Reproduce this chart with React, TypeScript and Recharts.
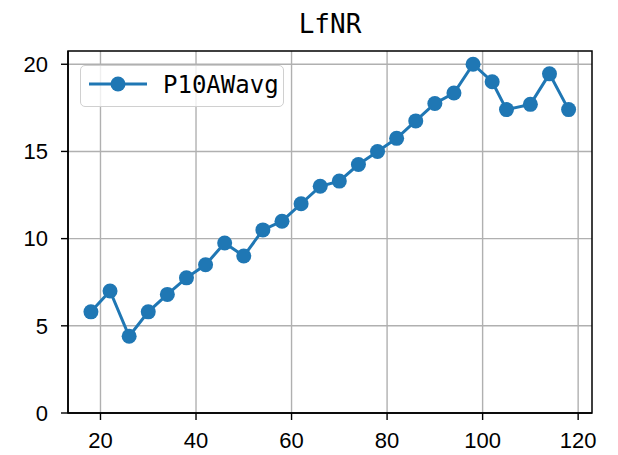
import React from "react";
import {
  LineChart,
  Line,
  XAxis,
  YAxis,
  CartesianGrid,
  ReferenceArea,
} from "recharts";

const xValues = [18, 22, 26, 30, 34, 38, 42, 46, 50, 54, 58, 62, 66, 70, 74, 78, 82, 86, 90, 94, 98, 102, 105, 110, 114, 118];
const p10AWavg = [5.8, 7.0, 4.4, 5.8, 6.8, 7.75, 8.5, 9.75, 9.0, 10.5, 11.0, 12.0, 13.0, 13.3, 14.25, 15.0, 15.75, 16.75, 17.75, 18.35, 20.0, 19.0, 17.4, 17.7, 19.45, 17.4];
const xTicks = [20, 40, 60, 80, 100, 120];
const yTicks = [0, 5, 10, 15, 20];

const X_DOMAIN: [number, number] = [13.2, 122.9];
const Y_DOMAIN: [number, number] = [0, 20.76];
const BLUE = "#1f77b4";
const MONO = "'DejaVu Sans Mono', monospace";
const SANS = "'Liberation Sans', Arial, sans-serif";

// legend drawn as an overlay so it does not take space from the plot
const LegendBox = () => (
  <div
    style={{
      position: "absolute",
      left: 80,
      top: 65,
      width: 204,
      height: 42,
      border: "1.5px solid #d0d0d0",
      borderRadius: 5,
      background: "rgba(255,255,255,0.8)",
      boxSizing: "border-box",
      fontFamily: MONO,
      fontSize: 24,
    }}
  >
    <svg width={80} height={30} style={{ position: "absolute", left: 8, top: 4 }}>
      <line x1={0} y1={14} x2={58} y2={14} stroke={BLUE} strokeWidth={3} />
      <circle cx={29} cy={14} r={7.5} fill={BLUE} />
    </svg>
    <span style={{ position: "absolute", left: 82, top: 5, lineHeight: "28px" }}>P10AWavg</span>
  </div>
);

export default function App() {
  const data = xValues.map((x, i) => ({ x, P10AWavg: p10AWavg[i] }));
  return (
    <div style={{ position: "absolute", left: 0, top: 0, width: 618, height: 455, background: "#fff" }}>
      <LineChart width={618} height={455} data={data} margin={{ top: 51, right: 26, left: 0, bottom: 0 }}>
        <CartesianGrid stroke="#b0b0b0" strokeWidth={1.4} verticalValues={xTicks} horizontalValues={yTicks} />
        <XAxis
          dataKey="x"
          type="number"
          domain={X_DOMAIN}
          ticks={xTicks}
          allowDataOverflow
          height={42}
          tickSize={7}
          tickMargin={12}
          tickLine={{ stroke: "#000", strokeWidth: 1.4 }}
          tick={{ fill: "#000", fontSize: 22, fontFamily: SANS }}
          axisLine={{ stroke: "#000", strokeWidth: 1.5 }}
        />
        <YAxis
          type="number"
          domain={Y_DOMAIN}
          ticks={yTicks}
          allowDataOverflow
          width={68}
          tickSize={7}
          tickMargin={13}
          tickLine={{ stroke: "#000", strokeWidth: 1.4 }}
          tick={{ fill: "#000", fontSize: 22, fontFamily: SANS }}
          axisLine={{ stroke: "#000", strokeWidth: 1.5 }}
        />
        <ReferenceArea
          x1={X_DOMAIN[0]}
          x2={X_DOMAIN[1]}
          y1={Y_DOMAIN[0]}
          y2={Y_DOMAIN[1]}
          fill="none"
          stroke="#000"
          strokeWidth={1.5}
        />
        <Line
          dataKey="P10AWavg"
          stroke={BLUE}
          strokeWidth={3}
          dot={{ r: 7.5, fill: BLUE, stroke: BLUE, strokeWidth: 0 }}
          activeDot={false}
          isAnimationActive={false}
        />
      </LineChart>
      <div
        style={{
          position: "absolute",
          left: 68,
          width: 524,
          top: 8,
          textAlign: "center",
          fontFamily: MONO,
          fontSize: 26,
          lineHeight: "32px",
        }}
      >
        LfNR
      </div>
      <LegendBox />
    </div>
  );
}
